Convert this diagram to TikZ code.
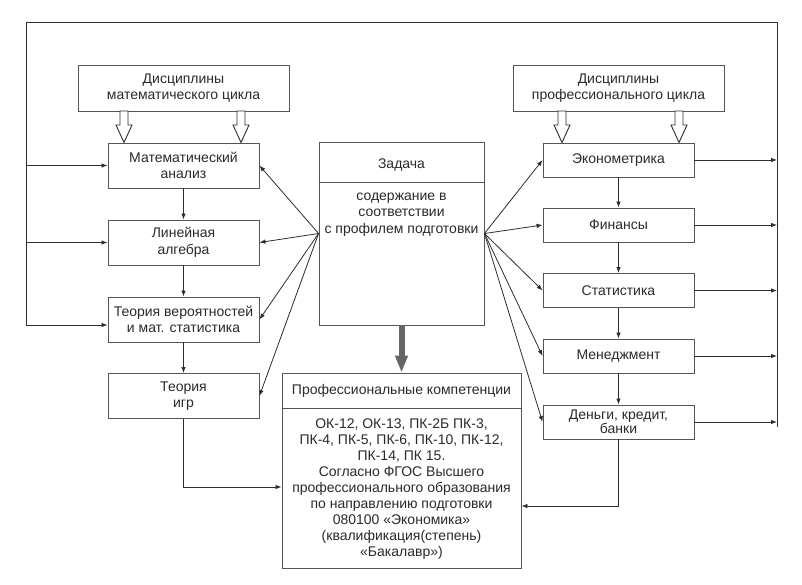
\documentclass[tikz,border=0pt]{standalone}
\usepackage{fontspec}
\setmainfont{Liberation Sans}
\usetikzlibrary{arrows.meta,calc}
\definecolor{boxc}{HTML}{555555}
\definecolor{linec}{HTML}{2E2E2E}
\definecolor{txt}{HTML}{2A2A2A}
\definecolor{grayc}{HTML}{666666}
\begin{document}
\begin{tikzpicture}[x=1pt,y=-1pt,
 font=\fontsize{14}{16.5}\selectfont,
 box/.style={draw=boxc, line width=0.9pt, fill=white, text=txt, align=center, inner sep=2pt},
 lbox/.style={box, minimum width=151pt, minimum height=45pt},
 rbox/.style={box, minimum width=151pt, minimum height=34pt},
 tbox/.style={box, minimum width=211pt, minimum height=46pt},
 lbl/.style={text=txt, align=center, inner sep=0pt},
 arr/.style={draw=linec, line width=0.8pt, -{Latex[length=6pt,width=4.5pt]}},
 ln/.style={draw=linec, line width=0.8pt},
 divline/.style={draw=boxc, line width=0.9pt},
 hollow/.style={draw=linec, line width=0.9pt, fill=white, line join=miter},
]
\useasboundingbox[fill=white] (0,0) rectangle (802,584);

% frame corners
\coordinate (fl) at (26,22);
\coordinate (fr) at (777,22);
\coordinate (flb) at (26,325);
\coordinate (frb) at (777,427);

% top discipline boxes
\node[tbox] (dm) at (183.5,88) {Дисциплины\\математического цикла};
\node[tbox] (dp) at (618.5,88) {Дисциплины\\профессионального цикла};

% left column
\node[lbox] (ma) at (183.5,165.5) {Математический\\анализ};
\node[lbox] (la) at (183.5,242.5) {Линейная\\алгебра};
\node[lbox] (tv) at (183.5,319.5) {Теория вероятностей\\и мат. статистика};
\node[lbox] (ti) at (183.5,396) {Теория\\игр};

% right column
\node[rbox] (em) at (618.5,160) {Эконометрика};
\node[rbox] (fi) at (618.5,225) {Финансы};
\node[rbox] (st) at (618.5,290.5) {Статистика};
\node[rbox] (me) at (618.5,356) {Менеджмент};
\node[rbox, font=\fontsize{14}{14}\selectfont] (dk) at (618.5,422) {Деньги, кредит,\\банки};

% task box
\node[box, minimum width=165pt, minimum height=183pt] (task) at (401.5,233.5) {};
\coordinate (tdiv) at (0,182);
\draw[divline] (task.west |- tdiv) -- (task.east |- tdiv);
\node[lbl] (tasktitle) at (401.5,165) {Задача};
\node[lbl] (taskbody) at (401.5,214.5) {содержание в\\соответствии\\с профилем подготовки};

% competences box
\node[box, minimum width=239pt, minimum height=195pt] (pk) at (401.5,470.5) {};
\coordinate (pdiv) at (0,408);
\draw[divline] (pk.west |- pdiv) -- (pk.east |- pdiv);
\node[lbl] (pktitle) at (401.5,391) {Профессиональные компетенции};
\node[lbl, font=\fontsize{14}{16}\selectfont] (pkbody) at (401.5,489.5) {ОК-12, ОК-13, ПК-2Б ПК-3,\\ПК-4, ПК-5, ПК-6, ПК-10, ПК-12,\\ПК-14, ПК 15.\\Согласно ФГОС Высшего\\профессионального образования\\по направлению подготовки\\080100 «Экономика»\\(квалификация(степень)\\«Бакалавр»)};

% outer frame
\draw[ln] (flb) -- (fl) -- (fr) -- (frb);

% left feed arrows
\draw[arr] (ma.west -| fl) -- (ma.west);
\draw[arr] (la.west -| fl) -- (la.west);
\draw[arr] (flb) -- (tv.west |- flb);

% right outgoing arrows
\foreach \n in {em,fi,st,me,dk} \draw[arr] (\n.east) -- (\n.east -| fr);

% vertical chains
\draw[arr] (ma.south) -- (la.north);
\draw[arr] (la.south) -- (tv.north);
\draw[arr] (tv.south) -- (ti.north);
\draw[arr] (em.south) -- (fi.north);
\draw[arr] (fi.south) -- (st.north);
\draw[arr] (st.south) -- (me.north);
\draw[arr] (me.south) -- (dk.north);

% fan from task
\foreach \n in {ma,la,tv,ti} \draw[arr] (task.west) -- (\n.east);
\foreach \n in {em,fi,st,me,dk} \draw[arr] (task.east) -- (\n.west);

% bottom connections to competences
\coordinate (yti) at (0,487);
\coordinate (ydk) at (0,506);
\draw[arr] (ti.south) |- (pk.west |- yti);
\draw[arr] (dk.south) |- (pk.east |- ydk);

% gray thick arrow
\draw[line width=6pt, draw=grayc, -{Triangle[length=17pt,width=12pt]}] (task.south) -- (pk.north);

% hollow block arrows
\foreach \x in {124,241,562,679}{
  \draw[hollow] (\x-4,111) -- (\x+4,111) -- (\x+4,125) -- (\x+8,125) -- (\x,142.5) -- (\x-8,125) -- (\x-4,125) -- cycle;
}
\end{tikzpicture}
\end{document}
